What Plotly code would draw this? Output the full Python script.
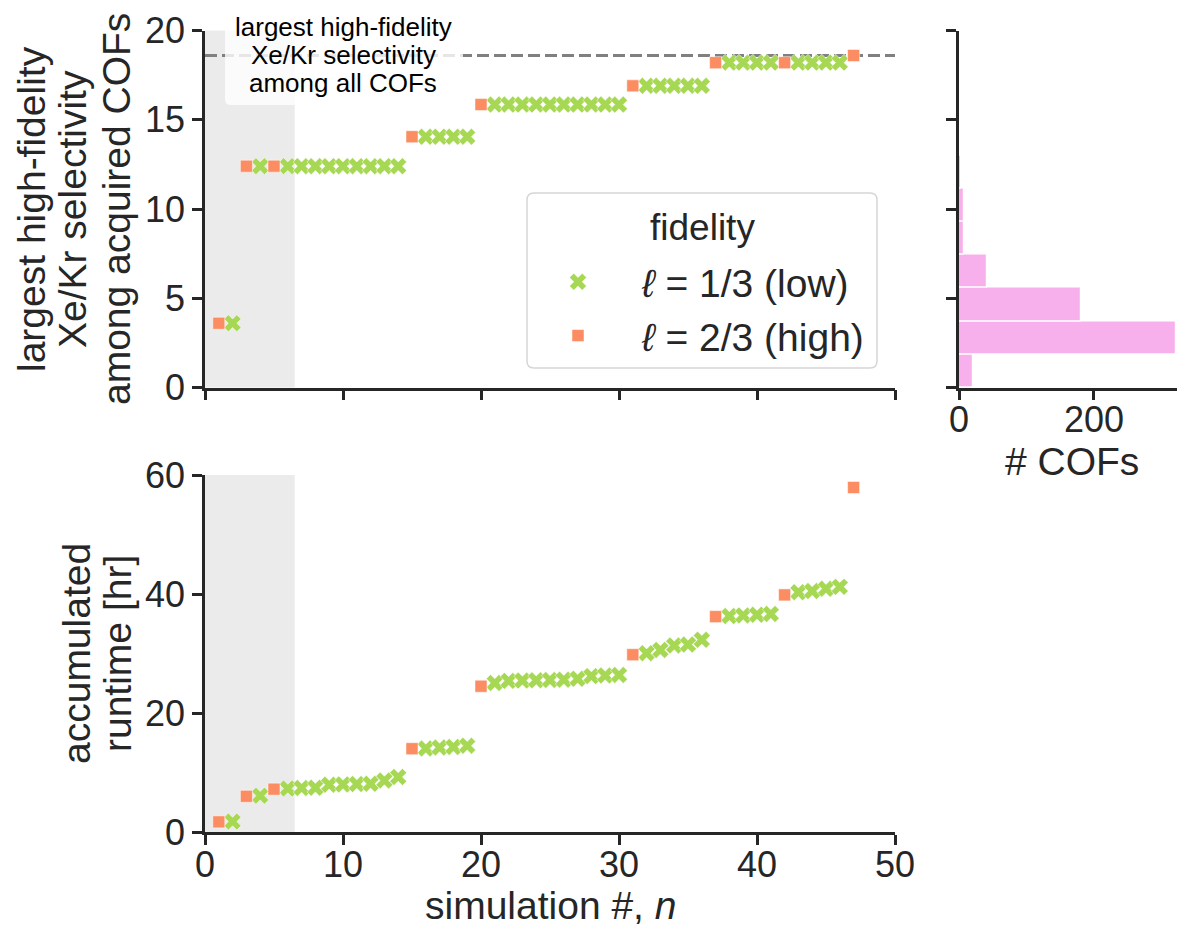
import plotly.graph_objects as go
import numpy as np

# ---- data ---------------------------------------------------------------
sim_n = list(range(1, 48))
high_fidelity_n = [1, 3, 5, 15, 20, 31, 37, 42, 47]

best_selectivity = [
    3.6, 3.6,
    12.4, 12.4, 12.4, 12.4, 12.4, 12.4, 12.4, 12.4, 12.4, 12.4, 12.4, 12.4,
    14.05, 14.05, 14.05, 14.05, 14.05,
    15.85, 15.85, 15.85, 15.85, 15.85, 15.85, 15.85, 15.85, 15.85, 15.85, 15.85,
    16.9, 16.9, 16.9, 16.9, 16.9, 16.9,
    18.2, 18.2, 18.2, 18.2, 18.2, 18.2, 18.2, 18.2, 18.2, 18.2,
    18.6,
]

runtime_hr = [
    1.7, 1.75, 6.0, 6.1, 7.2, 7.3, 7.4, 7.45, 7.95, 8.0,
    8.05, 8.1, 8.65, 9.25, 14.0, 14.05, 14.2, 14.3, 14.5, 24.5,
    25.05, 25.4, 25.45, 25.5, 25.55, 25.6, 25.75, 26.2, 26.3, 26.4,
    29.8, 30.05, 30.6, 31.35, 31.5, 32.3, 36.2, 36.3, 36.4, 36.5,
    36.65, 39.85, 40.3, 40.5, 40.9, 41.2, 57.9,
]

max_selectivity = 18.6          # best high-fidelity selectivity over all COFs
initialization_end = 6.5        # end of the initial-design phase
hist_counts = [20, 322, 181, 42, 8, 8, 3, 1, 0, 1]
hist_edges = np.linspace(0.0, max_selectivity, len(hist_counts) + 1)

# ---- styling ------------------------------------------------------------
W, H = 1177, 926
FONT = "Liberation Sans, Arial, Helvetica, sans-serif"
INK = "#262626"
GREEN = "#a6d854"
ORANGE = "#fc8d62"
PINK = "#f8b0ec"
SHADE = "#ebebeb"


def fx(p):
    return p / W


def fy(p):
    return 1 - p / H


low_idx = [i for i, n in enumerate(sim_n) if n not in high_fidelity_n]
high_idx = [i for i, n in enumerate(sim_n) if n in high_fidelity_n]

fig = go.Figure()

groups = [
    ("<i>ℓ</i> = 1/3 (low)", low_idx, "x", 15, GREEN),
    ("<i>ℓ</i> = 2/3 (high)", high_idx, "square", 12, ORANGE),
]

# top panel: best selectivity found so far
for name, idx, sym, size, col in groups:
    fig.add_trace(go.Scatter(
        x=[sim_n[i] for i in idx], y=[best_selectivity[i] for i in idx],
        mode="markers", name=name,
        marker=dict(symbol=sym, size=size, color=col,
                    line=dict(color="white", width=0.5)),
        xaxis="x2", yaxis="y2", showlegend=True,
    ))

# bottom panel: accumulated runtime
for name, idx, sym, size, col in groups:
    fig.add_trace(go.Scatter(
        x=[sim_n[i] for i in idx], y=[runtime_hr[i] for i in idx],
        mode="markers", name=name,
        marker=dict(symbol=sym, size=size, color=col,
                    line=dict(color="white", width=0.5)),
        xaxis="x", yaxis="y", showlegend=False,
    ))

# side histogram of selectivities over all COFs
centers = 0.5 * (hist_edges[:-1] + hist_edges[1:])
fig.add_trace(go.Bar(
    y=centers, x=hist_counts, orientation="h",
    width=float(hist_edges[1] - hist_edges[0]),
    marker=dict(color=PINK, line=dict(color="white", width=1.2)),
    xaxis="x3", yaxis="y3", showlegend=False,
))

axis_common = dict(
    showline=True, linecolor=INK, linewidth=2.5,
    ticks="outside", ticklen=10, tickwidth=2.5, tickcolor=INK,
    showgrid=False, zeroline=False, automargin=False,
    tickfont=dict(family=FONT, size=36, color=INK),
)

top_dom = [fy(387.5), fy(30.5)]
bot_dom = [fy(832), fy(475)]
main_x = [fx(205), fx(895)]

fig.update_layout(
    template="none",
    width=W, height=H,
    margin=dict(l=0, r=0, t=0, b=0, pad=0),
    paper_bgcolor="white", plot_bgcolor="white",
    font=dict(family=FONT, color=INK),
    xaxis=dict(domain=main_x, anchor="y", range=[0, 50],
               tickvals=[0, 10, 20, 30, 40, 50], ticklabelstandoff=-11,
               **axis_common),
    yaxis=dict(domain=bot_dom, anchor="x", range=[0, 60],
               tickvals=[0, 20, 40, 60], **axis_common),
    xaxis2=dict(domain=main_x, anchor="y2", range=[0, 50], matches="x",
                tickvals=[0, 10, 20, 30, 40, 50], showticklabels=False,
                **axis_common),
    yaxis2=dict(domain=top_dom, anchor="x2", range=[0, 20],
                tickvals=[0, 5, 10, 15, 20], **axis_common),
    xaxis3=dict(domain=[fx(959), 1.0], anchor="y3", range=[0, 323],
                tickvals=[0, 200], ticklabelstandoff=-11, **axis_common),
    yaxis3=dict(domain=top_dom, anchor="x3", range=[0, 20], matches="y2",
                tickvals=[0, 5, 10, 15, 20], showticklabels=False,
                **axis_common),
    bargap=0,
    legend=dict(
        font=dict(family=FONT, size=39, color=INK),
        x=fx(514), y=fy(250), xanchor="left", yanchor="top",
        bgcolor="rgba(0,0,0,0)", borderwidth=0,
        itemwidth=118, itemsizing="trace", tracegroupgap=0,
    ),
)

# shaded initial-design phase in both panels
for xr, yr in (("x2", "y2"), ("x", "y")):
    fig.add_shape(type="rect", xref=xr, yref=f"{yr} domain",
                  x0=0, x1=initialization_end, y0=0, y1=1,
                  fillcolor=SHADE, line_width=0, layer="below")

# reference line at the best selectivity among all COFs
fig.add_shape(type="line", xref="x2", yref="y2",
              x0=0, x1=50, y0=max_selectivity, y1=max_selectivity,
              line=dict(color="#808080", width=3, dash="12px,5px"),
              layer="below")


def rounded_box(x0, y0, x1, y1, r):
    """Rounded rectangle path in paper units; r is given in pixels."""
    rx, ry = r / W, r / H
    return (f"M {x0 + rx} {y0} L {x1 - rx} {y0} Q {x1} {y0} {x1} {y0 - ry} "
            f"L {x1} {y1 + ry} Q {x1} {y1} {x1 - rx} {y1} "
            f"L {x0 + rx} {y1} Q {x0} {y1} {x0} {y1 + ry} "
            f"L {x0} {y0 - ry} Q {x0} {y0} {x0 + rx} {y0} Z")


# box behind the reference-line note
fig.add_shape(type="path", xref="paper", yref="paper",
              path=rounded_box(fx(225), fy(8), fx(463), fy(105), 6),
              fillcolor="rgba(255,255,255,0.8)", line_width=0, layer="above")

# legend frame
fig.add_shape(type="path", xref="paper", yref="paper",
              path=rounded_box(fx(527), fy(193), fx(877), fy(368), 7),
              fillcolor="rgba(255,255,255,0.8)",
              line=dict(color="#d6d6d6", width=1.5), layer="above")

# legend heading
fig.add_annotation(text="fidelity", xref="paper", yref="paper",
                   x=fx(702), y=fy(227), xanchor="center", yanchor="middle",
                   showarrow=False, font=dict(family=FONT, size=37, color=INK))

note_lines = ["largest high-fidelity", "Xe/Kr selectivity", "among all COFs"]
for txt, ypx in zip(note_lines, [27, 55, 83]):
    fig.add_annotation(text=txt, xref="paper", yref="paper",
                       x=fx(343), y=fy(ypx), xanchor="center", yanchor="middle",
                       showarrow=False, font=dict(family=FONT, size=26, color="black"))

# axis titles
top_ylabel = ["largest high-fidelity", "Xe/Kr selectivity", "among acquired COFs"]
for txt, xpx in zip(top_ylabel, [31, 72, 116]):
    fig.add_annotation(text=txt, xref="paper", yref="paper",
                       x=fx(xpx), y=fy(209), xanchor="center", yanchor="middle",
                       textangle=-90, showarrow=False,
                       font=dict(family=FONT, size=39, color=INK))

bot_ylabel = ["accumulated", "runtime [hr]"]
for txt, xpx in zip(bot_ylabel, [76, 117]):
    fig.add_annotation(text=txt, xref="paper", yref="paper",
                       x=fx(xpx), y=fy(654), xanchor="center", yanchor="middle",
                       textangle=-90, showarrow=False,
                       font=dict(family=FONT, size=39, color=INK))

fig.add_annotation(text="simulation #, <i>n</i>", xref="paper", yref="paper",
                   x=fx(550), y=fy(905), xanchor="center", yanchor="middle",
                   showarrow=False, font=dict(family=FONT, size=39, color=INK))

fig.add_annotation(text="# COFs", xref="paper", yref="paper",
                   x=fx(1072), y=fy(462), xanchor="center", yanchor="middle",
                   showarrow=False, font=dict(family=FONT, size=39, color=INK))

fig.write_html("out.html")
